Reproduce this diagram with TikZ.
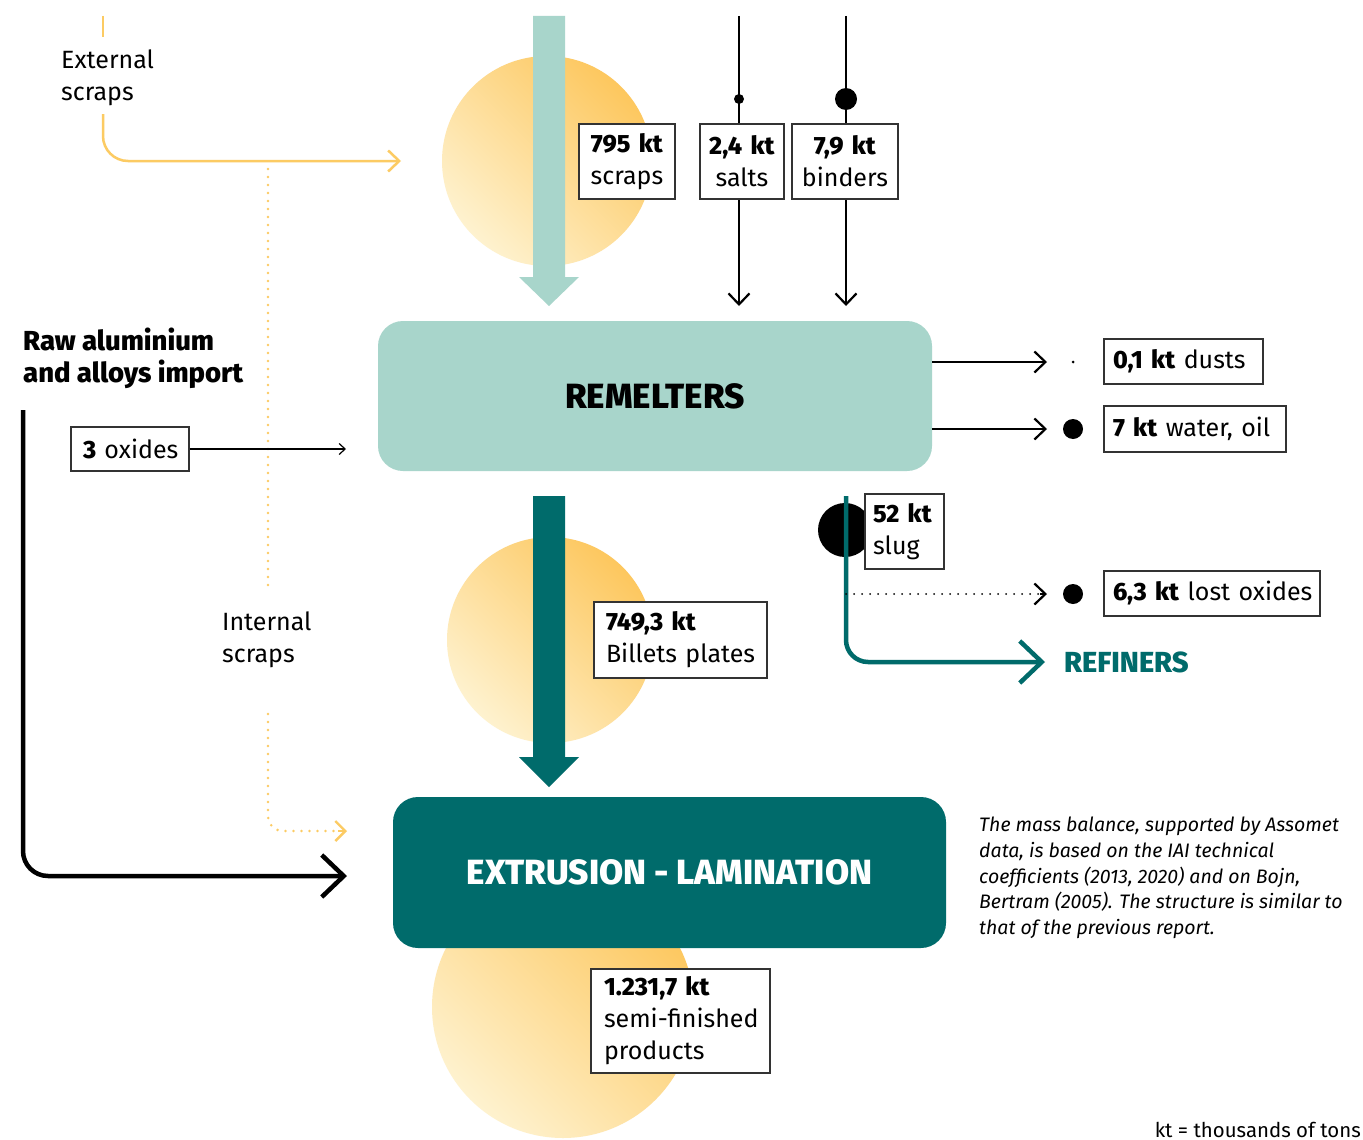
\documentclass[tikz,border=0pt]{standalone}
\usepackage{fontspec}
\setmainfont{Fira Sans}[BoldFont={* ExtraBold}, BoldItalicFont={* ExtraBold Italic}]
\usetikzlibrary{arrows.meta}
\definecolor{lteal}{HTML}{A8D5CB}
\definecolor{dteal}{HTML}{006B6B}
\definecolor{ydark}{HTML}{FDC75E}
\definecolor{ylight}{HTML}{FEF2CF}
\definecolor{yline}{HTML}{FCCB63}
\definecolor{boxline}{HTML}{333333}
\pgfdeclarelayer{paper}
\pgfdeclarelayer{bgg}
\pgfdeclarelayer{bg}
\pgfsetlayers{paper,bgg,bg,main}
\newcommand\fsA{\fontsize{25}{32}\selectfont\hyphenpenalty=10000\exhyphenpenalty=10000 }
\newcommand\fsB{\fontsize{35}{40}\selectfont}
\newcommand\fsC{\fontsize{19.5}{25.7}\selectfont}
\begin{document}
\begin{tikzpicture}[x=1pt,y=-1pt,
  kbox/.style={draw=boxline, line width=1.2pt, fill=white, inner ysep=0pt, font=\fsA},
  cbox/.style={kbox, align=center},
  lbox/.style={kbox, align=left},
  proc/.style={rounded corners=25pt, inner sep=0pt, font=\fsB\bfseries},
  sun/.style={top color=ydark, bottom color=ylight, shading angle=-45},
  thin arrow/.style={line width=2.2pt, -{Straight Barb[length=11pt,width=21pt]}},
  big arrow/.style={line width=4.5pt, -{Straight Barb[length=22pt,width=42pt]}},
  dotline/.style={line cap=round, dash pattern=on 0pt off 8pt},
  lbl/.style={font=\fsA, align=left, inner sep=0pt, anchor=north west}
]
\begin{pgfonlayer}{paper}
\fill[white] (0,0) rectangle (1363,1140);
\end{pgfonlayer}
\useasboundingbox (0,0) rectangle (1363,1140);

% suns
\begin{pgfonlayer}{bgg}
\shade[sun] (547,161) circle[radius=105];
\shade[sun] (550,640) circle[radius=103];
\shade[sun] (563,1007) circle[radius=131];
\end{pgfonlayer}

% process boxes
\node[proc, fill=lteal, minimum width=554pt, minimum height=150pt] (rem) at (655,396) {REMELTERS};
\node[proc, fill=dteal, text=white, minimum width=553pt, minimum height=151pt] (ext) at (669.5,872.5) {EXTRUSION - LAMINATION};

% quantity boxes
\node[cbox, text width=80pt, inner xsep=8pt, minimum height=75pt] (scr) at (627,161.5) {\textbf{795~kt}\\scraps};
\node[cbox, text width=68pt, inner xsep=8pt, minimum height=75pt] (salt) at (742,161.5) {\textbf{2,4~kt}\\salts};
\node[cbox, text width=90pt, inner xsep=8pt, minimum height=75pt] (bind) at (845,161.5) {\textbf{7,9~kt}\\binders};
\node[lbox, text width=141pt, inner xsep=9pt, minimum height=45pt] (dust) at (1183.5,361.5) {\textbf{0,1~kt}~dusts};
\node[lbox, text width=164pt, inner xsep=9pt, minimum height=46pt] (water) at (1195,429) {\textbf{7~kt}~water,~oil};
\node[lbox, text width=198pt, inner xsep=9pt, minimum height=45pt] (lost) at (1212,593.5) {\textbf{6,3~kt}~lost~oxides};
\node[lbox, text width=94pt, inner xsep=12pt, minimum height=44pt] (oxi) at (130,449) {\textbf{3}~oxides};
\node[lbox, text width=149pt, inner xsep=12pt, minimum height=76pt] (bil) at (680.5,640) {\textbf{749,3~kt}\\Billets~plates};
\node[lbox, text width=153pt, inner xsep=13pt, minimum height=104pt] (semi) at (680.5,1021) {\textbf{1.231,7~kt}\\\mbox{semi-finished}\\products};

% dots
\fill (739,99) circle[radius=5];
\fill (846,99) circle[radius=11];
\node[circle, fill, inner sep=0pt, minimum size=3pt] (ddust) at (1073,362) {};
\node[circle, fill, inner sep=0pt, minimum size=20pt] (dwater) at (1073,429) {};
\node[circle, fill, inner sep=0pt, minimum size=20pt] (dlost) at (1073,594) {};

% coordinates
\coordinate (saltTop) at (739,16);
\coordinate (saltEnd) at (739,306);
\coordinate (bindTop) at (846,16);
\coordinate (bindEnd) at (846,306);
\coordinate (dustEnd) at (1047,362);
\coordinate (waterEnd) at (1047,429);
\coordinate (lostStart) at (846,594);
\coordinate (lostEnd) at (1047,594);
\coordinate (slugTop) at (846,496);
\coordinate (refEnd) at (1045,662);
\coordinate (extTop0) at (103,16);
\coordinate (extTop1) at (103,37);
\coordinate (extStart) at (103,114);
\coordinate (extEnd) at (401,161);
\coordinate (intA) at (268,169);
\coordinate (intB) at (268,587);
\coordinate (intC) at (268,714);
\coordinate (intEnd) at (347,831);
\coordinate (rawStart) at (23,410);
\coordinate (rawEnd) at (347,876);
\coordinate (oxEnd) at (346,449);

\begin{pgfonlayer}{bg}
% light teal arrow (scraps into remelters)
\fill[lteal] (533,16) -- (565,16) -- (565,277) -- (579,277) -- (549,306) -- (519,277) -- (533,277) -- cycle;
% dark teal arrow (remelters to extrusion)
\fill[dteal] (533,496) -- (565,496) -- (565,757) -- (579,757) -- (549,787) -- (519,757) -- (533,757) -- cycle;
% slug blob
\fill (845,530) circle[radius=27];
% salts, binders
\draw[thin arrow] (saltTop) -- (saltEnd);
\draw[thin arrow] (bindTop) -- (bindEnd);
\end{pgfonlayer}

% slug and refiners
\node[lbox, text width=63pt, inner xsep=8pt, minimum height=75pt] (slug) at (904.5,531.5) {\textbf{52~kt}\\slug};
\draw[dteal, big arrow, rounded corners=22pt] (slugTop) |- (refEnd);
\node[font=\fontsize{29}{34}\selectfont\bfseries, text=dteal, anchor=west, inner sep=0pt] (ref) at (1064,662) {REFINERS};

% outputs
\draw[thin arrow] (rem.east |- dustEnd) -- (dustEnd);
\draw[thin arrow] (rem.east |- waterEnd) -- (waterEnd);
\draw[line width=2pt, dotline] (lostStart) -- (1040,594);
\draw[line width=2.2pt, -{Straight Barb[length=11pt,width=21pt]}] (1040,594) -- (lostEnd);

% external scraps
\node[lbl] (extlbl) at (61,50) {External\\scraps};
\draw[yline, line width=2.5pt] (extTop0) -- (extTop1);
\draw[yline, line width=2.5pt, rounded corners=25pt, -{Straight Barb[length=11pt,width=21pt]}] (extStart) |- (extEnd);
% internal scraps
\draw[yline, line width=2.8pt, dotline] (intA) -- (intB);
\node[lbl] (intlbl) at (222,612) {Internal\\scraps};
\draw[yline, line width=2.8pt, dotline, rounded corners=15pt] (intC) |- (340,831);
\draw[yline, line width=2.4pt, -{Straight Barb[length=10pt,width=20pt]}] (338,831) -- (intEnd);

% raw aluminium
\node[lbl, font=\fontsize{27.5}{32}\selectfont\bfseries] (rawlbl) at (23,328) {Raw aluminium\\and alloys import};
\draw[big arrow, rounded corners=25pt] (rawStart) |- (rawEnd);
% oxides
\draw[line width=1.2pt, -{Straight Barb[length=6pt,width=11pt]}] (oxi.east) -- (oxEnd);

% notes
\node[font=\fsC\itshape, align=left, inner sep=0pt, anchor=north west] (note) at (979,817)
 {The mass balance, supported by Assomet\\data, is based on the IAI technical\\coefficients (2013, 2020) and on Bojn,\\Bertram (2005). The structure is similar to\\that of the previous report.};
\node[font=\fontsize{20.4}{25}\selectfont, inner sep=0pt, anchor=base east] (unit) at (1361,1137) {kt = thousands of tons};
\end{tikzpicture}
\end{document}
